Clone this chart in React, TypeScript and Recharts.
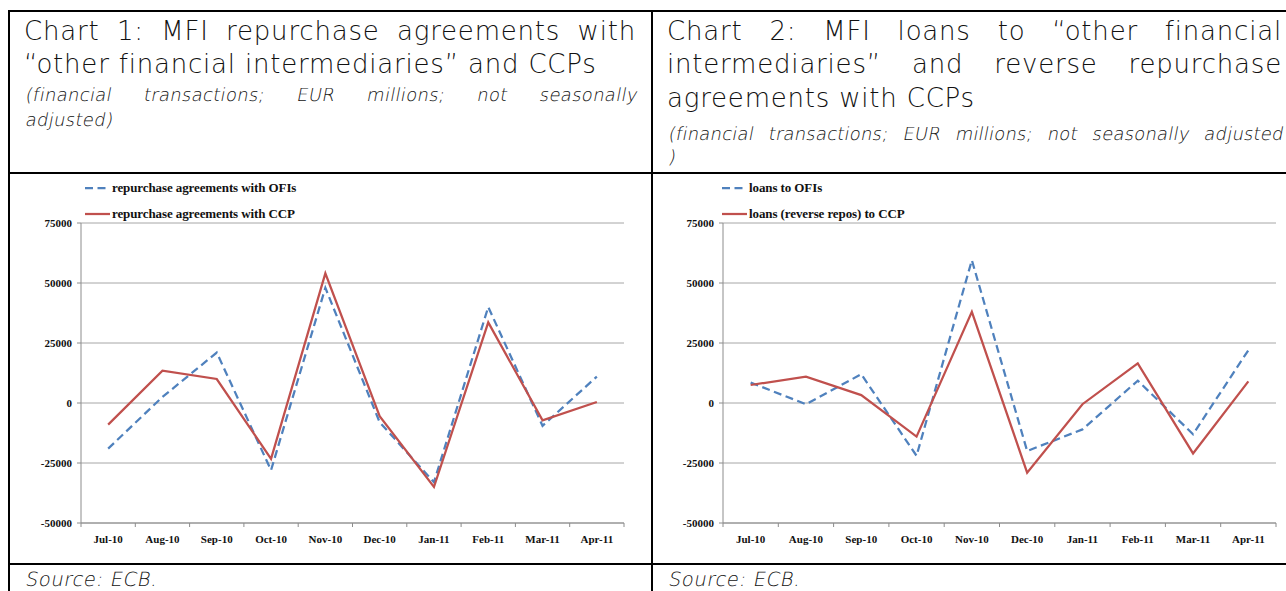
import React from "react";
import { LineChart, Line, XAxis, YAxis, CartesianGrid, Legend } from "recharts";

const months = ["Jul-10", "Aug-10", "Sep-10", "Oct-10", "Nov-10", "Dec-10", "Jan-11", "Feb-11", "Mar-11", "Apr-11"];

// chart 1
const repoWithOfis = [-19000, 2500, 21000, -28000, 48000, -8000, -33000, 40000, -9500, 11000];
const repoWithCcp = [-9000, 13500, 10000, -23300, 54000, -5500, -35000, 33600, -7200, 400];

// chart 2
const loansToOfis = [8500, -500, 12000, -22000, 59500, -20000, -11000, 9300, -13000, 22000];
const loansToCcp = [7500, 11000, 3300, -14000, 38000, -29000, -500, 16500, -21000, 9000];

const yTicks = [-50000, -25000, 0, 25000, 50000, 75000];

const BLUE = "#4F81BD";
const RED = "#C0504D";
const AXIS = "#8c8c8c";
const SERIF = "'Liberation Serif', 'Times New Roman', serif";
const SANS = "'DejaVu Sans', Lato, sans-serif";

const chart1Data = months.map((m, i) => ({ month: m, ofi: repoWithOfis[i], ccp: repoWithCcp[i] }));
const chart2Data = months.map((m, i) => ({ month: m, ofi: loansToOfis[i], ccp: loansToCcp[i] }));

type Series = { key: string; name: string; color: string; dash?: string };

const chart1Series: Series[] = [
    { key: "ofi", name: "repurchase agreements with OFIs", color: BLUE, dash: "8 4.5" },
    { key: "ccp", name: "repurchase agreements with CCP", color: RED },
];
const chart2Series: Series[] = [
    { key: "ofi", name: "loans to OFIs", color: BLUE, dash: "8 4.5" },
    { key: "ccp", name: "loans (reverse repos) to CCP", color: RED },
];

function XTick(props: any) {
    const { x, y, payload, index, band } = props;
    return (
        <g>
            {index === 0 && <line x1={x - band / 2} x2={x - band / 2} y1={y} y2={y + 4} stroke={AXIS} />}
            <line x1={x + band / 2} x2={x + band / 2} y1={y} y2={y + 4} stroke={AXIS} />
            <text x={x} y={y + 20} textAnchor="middle" fontFamily={SERIF} fontWeight={700} fontSize={11} fill="#111">
                {payload.value}
            </text>
        </g>
    );
}

interface PanelProps {
    left: number;
    width: number;
    yAxisWidth: number;
    rightMargin: number;
    legendLeft: number;
    data: any[];
    series: Series[];
}

function Panel({ left, width, yAxisWidth, rightMargin, legendLeft, data, series }: PanelProps) {
    const plotWidth = width - yAxisWidth - rightMargin;
    const band = plotWidth / months.length;

    const renderLegend = () => (
        <div style={{ fontFamily: SERIF, fontWeight: 700, fontSize: 13, color: "#111", letterSpacing: -0.1 }}>
            {series.map((s) => (
                <div key={s.key} style={{ display: "flex", alignItems: "center", height: 26, whiteSpace: "nowrap" }}>
                    <svg width={25} height={10} style={{ display: "block" }}>
                        <line x1={0} x2={25} y1={5} y2={5} stroke={s.color} strokeWidth={2.25} strokeDasharray={s.dash} />
                    </svg>
                    <span style={{ marginLeft: 2 }}>{s.name}</span>
                </div>
            ))}
        </div>
    );

    return (
        <div style={{ position: "absolute", left, top: 174 }}>
            <LineChart width={width} height={389} data={data} margin={{ top: 5, right: rightMargin, bottom: 10, left: 0 }}>
                <CartesianGrid vertical={false} stroke="#a6a6a6" />
                <XAxis
                    dataKey="month"
                    interval={0}
                    padding={{ left: band / 2, right: band / 2 }}
                    axisLine={{ stroke: AXIS }}
                    tickLine={false}
                    tickSize={0}
                    tickMargin={0}
                    height={30}
                    tick={(p: any) => <XTick {...p} band={band} />}
                />
                <YAxis
                    width={yAxisWidth}
                    domain={[-50000, 75000]}
                    ticks={yTicks}
                    interval={0}
                    axisLine={{ stroke: AXIS }}
                    tickLine={{ stroke: AXIS }}
                    tickSize={4}
                    tickMargin={5}
                    tick={{ fontFamily: SERIF, fontWeight: 700, fontSize: 11, fill: "#111" }}
                />
                <Legend
                    verticalAlign="top"
                    align="left"
                    content={renderLegend}
                    wrapperStyle={{ top: 1, left: legendLeft, width: 330, height: 44 }}
                />
                {series.map((s) => (
                    <Line
                        key={s.key}
                        type="linear"
                        dataKey={s.key}
                        name={s.name}
                        stroke={s.color}
                        strokeWidth={2.25}
                        strokeDasharray={s.dash}
                        dot={false}
                        activeDot={false}
                        isAnimationActive={false}
                    />
                ))}
            </LineChart>
        </div>
    );
}

// one text line placed by its baseline; italics are the light face slanted
function TextLine({ text, left, width, baseline, size, italic, justify, spacing = 0 }: {
    text: string; left: number; width: number; baseline: number; size: number; italic?: boolean; justify?: boolean; spacing?: number;
}) {
    return (
        <div
            style={{
                position: "absolute",
                left,
                width,
                top: baseline - size * 0.93,
                height: size * 1.1,
                fontFamily: SANS,
                fontWeight: 200,
                fontSize: size,
                lineHeight: `${size * 1.1}px`,
                letterSpacing: spacing,
                whiteSpace: "nowrap",
                textAlign: justify ? "justify" : "left",
                textAlignLast: justify ? "justify" : "left",
                color: "#111",
                transform: italic ? "skewX(-11deg)" : undefined,
                transformOrigin: "left bottom",
            }}
        >
            {text}
        </div>
    );
}

const border = (left: number, top: number, width: number, height: number) => (
    <div style={{ position: "absolute", left, top, width, height, background: "#000" }} />
);

export default function App() {
    return (
        <div style={{ position: "absolute", left: 0, top: 0, width: 1286, height: 591, overflow: "hidden", background: "#fff" }}>
            {border(8, 10, 1300, 2)}
            {border(8, 10, 2, 600)}
            {border(651, 10, 2, 600)}
            {border(8, 172, 1300, 2)}
            {border(8, 563, 1300, 2)}

            <TextLine text="Chart 1: MFI repurchase agreements with" left={24} width={612} baseline={41} size={26} spacing={0.8} justify />
            <TextLine text="“other financial intermediaries” and CCPs" left={24} width={612} baseline={74.5} size={26} spacing={0.8} />
            <TextLine text="(financial transactions; EUR millions; not seasonally" left={24} width={612} baseline={101.5} size={18} spacing={0.3} italic justify />
            <TextLine text="adjusted)" left={24} width={612} baseline={126.5} size={18} spacing={0.3} italic />

            <TextLine text="Chart 2: MFI loans to “other financial" left={667} width={615} baseline={41} size={26} spacing={0.8} justify />
            <TextLine text="intermediaries” and reverse repurchase" left={667} width={615} baseline={74.5} size={26} spacing={0.8} justify />
            <TextLine text="agreements with CCPs" left={667} width={615} baseline={108} size={26} spacing={0.8} />
            <TextLine text="(financial transactions; EUR millions; not seasonally adjusted" left={667} width={615} baseline={141} size={18} spacing={0.2} italic justify />
            <TextLine text=")" left={667} width={615} baseline={164} size={18} italic />

            <Panel left={10} width={641} yAxisWidth={71} rightMargin={27} legendLeft={75} data={chart1Data} series={chart1Series} />
            <Panel left={653} width={640} yAxisWidth={70} rightMargin={17} legendLeft={69} data={chart2Data} series={chart2Series} />

            <TextLine text="Source: ECB." left={24} width={600} baseline={587} size={19.5} spacing={0.6} italic />
            <TextLine text="Source: ECB." left={667} width={600} baseline={587} size={19.5} spacing={0.6} italic />
        </div>
    );
}
